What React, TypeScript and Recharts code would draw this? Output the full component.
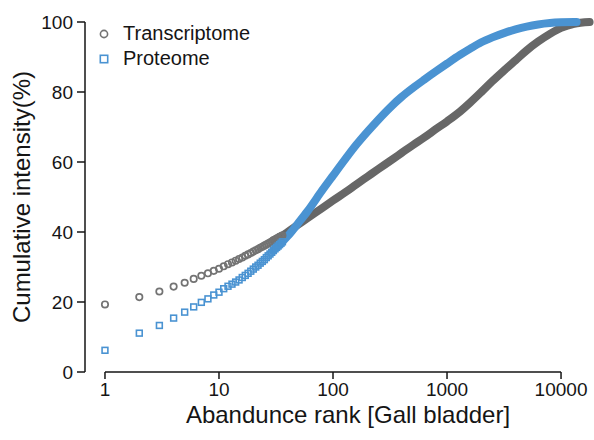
import { ComposedChart, XAxis, YAxis, Scatter, Line, ReferenceLine, Legend } from 'recharts';

// series order also drives the legend
const seriesNames = ['Transcriptome', 'Proteome'];

// top-ranked entries, drawn as individual markers
const lowRanks = [
  1, 2, 3, 4, 5, 6, 7, 8, 9, 10, 11, 12, 13, 14, 15, 16, 17, 18,
  19, 20, 21, 22, 23, 24, 25, 26, 27, 28, 29, 30, 31, 32, 33, 34, 35, 36,
];
const transcriptomeLow = [
  19.3, 21.4, 23.0, 24.4, 25.5, 26.6, 27.5, 28.2, 28.9, 29.5, 30.2, 30.8, 31.3, 31.8, 32.3, 32.7, 33.2, 33.6,
  34.0, 34.4, 34.8, 35.1, 35.5, 35.8, 36.1, 36.4, 36.7, 37.0, 37.3, 37.6, 37.8, 38.1, 38.3, 38.6, 38.8, 39.0,
];
const proteomeLow = [
  6.2, 11.1, 13.3, 15.4, 17.1, 18.6, 19.9, 20.9, 22.0, 22.8, 23.8, 24.5, 25.1, 25.7, 26.3, 27.0, 27.6, 28.2,
  28.8, 29.4, 30.0, 30.5, 31.1, 31.6, 32.1, 32.7, 33.2, 33.7, 34.2, 34.7, 35.2, 35.6, 36.0, 36.4, 36.8, 37.2,
];

// the long tail is so dense that the markers merge into a band
const curveRanks = [
  30, 36, 40, 50, 60, 80, 100, 130, 160, 200, 250, 320, 400, 500,
  630, 800, 1000, 1300, 1600, 2000, 2500, 3200, 4000, 5000, 6300, 8000, 10000, 13000,
];
const transcriptomeCurve = [
  37.6, 39.0, 40.0, 42.2, 44.0, 46.8, 49.0, 51.5, 53.6, 55.8, 58.0, 60.4, 62.6, 64.8,
  67.0, 69.4, 71.6, 74.4, 77.0, 80.0, 83.1, 86.3, 89.1, 91.9, 94.4, 96.6, 98.3, 99.5,
];
const proteomeCurve = [
  34.7, 37.2, 38.8, 42.7, 46.0, 51.8, 56.1, 61.1, 64.9, 68.6, 72.1, 75.7, 78.6, 81.1,
  83.5, 85.9, 88.1, 90.6, 92.4, 94.2, 95.6, 96.9, 97.9, 98.7, 99.3, 99.7, 99.9, 100,
];
const transcriptomeLastRank = 17800;
const proteomeLastRank = 13700;
const fullIntensity = 100;

const xTicks = [1, 10, 100, 1000, 10000];
const yTicks = [0, 20, 40, 60, 80, 100];

const GREY = '#676767';
const GREY_MARK = '#737373';
const BLUE = '#4a93d2';
const INK = '#151515';
const FONT = '"Liberation Sans", Arial, Helvetica, sans-serif';

const toPoints = (ranks: number[], values: number[]) =>
  ranks.map((rank, i) => ({ rank, value: values[i] }));

const transcriptomeDots = toPoints(lowRanks, transcriptomeLow);
const proteomeDots = toPoints(lowRanks, proteomeLow);
const transcriptomeLine = [
  ...toPoints(curveRanks, transcriptomeCurve),
  { rank: transcriptomeLastRank, value: fullIntensity },
];
const proteomeLine = [
  ...toPoints(curveRanks, proteomeCurve),
  { rank: proteomeLastRank, value: fullIntensity },
];

const OpenCircle = (props: any) => (
  <circle cx={props.cx} cy={props.cy} r={3.2} fill="none" stroke={GREY_MARK} strokeWidth={1.7} />
);

const OpenSquare = (props: any) => (
  <rect x={props.cx - 2.9} y={props.cy - 2.9} width={5.8} height={5.8} fill="none" stroke={BLUE} strokeWidth={1.6} />
);

const renderLegend = () => (
  <div style={{ fontFamily: FONT, fontSize: 20, color: INK }}>
    {seriesNames.map((name, i) => (
      <div key={name} style={{ display: 'flex', alignItems: 'center', height: 25, lineHeight: '25px' }}>
        <svg width={16} height={16} style={{ marginRight: 11 }}>
          {i === 0 ? (
            <circle cx={8} cy={8} r={3.6} fill="none" stroke={GREY_MARK} strokeWidth={1.6} />
          ) : (
            <rect x={4.3} y={4.3} width={7.4} height={7.4} fill="none" stroke={BLUE} strokeWidth={1.6} />
          )}
        </svg>
        <span>{name}</span>
      </div>
    ))}
  </div>
);

const xTitle = (props: any) => (
  <text x={348} y={props.viewBox.y + 51} textAnchor="middle" fontSize={24} fontFamily={FONT} fill={INK}>
    Abandunce rank [Gall bladder]
  </text>
);

const yTitle = (props: any) => {
  const cy = props.viewBox.y + props.viewBox.height / 2;
  return (
    <text
      x={30}
      y={cy}
      transform={`rotate(-90, 30, ${cy})`}
      textAnchor="middle"
      fontSize={24}
      fontFamily={FONT}
      fill={INK}
    >
      Cumulative intensity(%)
    </text>
  );
};

export default function App() {
  const tickStyle = { fill: INK, fontSize: 19, fontFamily: FONT };
  return (
    <div style={{ position: 'absolute', left: 0, top: 0, background: '#fff' }}>
      <ComposedChart width={594} height={440} margin={{ top: 22, right: 0, bottom: 0, left: 0 }}>
        <XAxis
          dataKey="rank"
          type="number"
          scale="log"
          domain={[0.668, 19460]}
          ticks={xTicks}
          axisLine={false}
          tickLine={{ stroke: INK, strokeWidth: 1.5 }}
          tickSize={7}
          tickMargin={4}
          tick={tickStyle}
          height={68}
          label={{ content: xTitle }}
        />
        <YAxis
          dataKey="value"
          type="number"
          domain={[0, 100]}
          ticks={yTicks}
          axisLine={{ stroke: INK, strokeWidth: 1.5 }}
          tickLine={{ stroke: INK, strokeWidth: 1.5 }}
          tickSize={8}
          tickMargin={4}
          tick={tickStyle}
          width={85}
          label={{ content: yTitle }}
        />
        <ReferenceLine
          segment={[{ x: xTicks[0], y: 0 }, { x: xTicks[xTicks.length - 1], y: 0 }]}
          stroke={INK}
          strokeWidth={1.5}
        />
        <Line
          data={transcriptomeLine}
          dataKey="value"
          type="monotone"
          stroke={GREY}
          strokeWidth={8}
          strokeLinecap="round"
          dot={false}
          activeDot={false}
          legendType="none"
          isAnimationActive={false}
        />
        <Scatter
          name={seriesNames[0]}
          data={transcriptomeDots}
          shape={OpenCircle}
          isAnimationActive={false}
        />
        <Line
          data={proteomeLine}
          dataKey="value"
          type="monotone"
          stroke={BLUE}
          strokeWidth={8}
          strokeLinecap="round"
          dot={false}
          activeDot={false}
          legendType="none"
          isAnimationActive={false}
        />
        <Scatter
          name={seriesNames[1]}
          data={proteomeDots}
          shape={OpenSquare}
          isAnimationActive={false}
        />
        <Legend
          content={renderLegend}
          layout="vertical"
          align="center"
          verticalAlign="middle"
          wrapperStyle={{ left: 96, top: 21, width: 'auto' }}
        />
      </ComposedChart>
    </div>
  );
}
